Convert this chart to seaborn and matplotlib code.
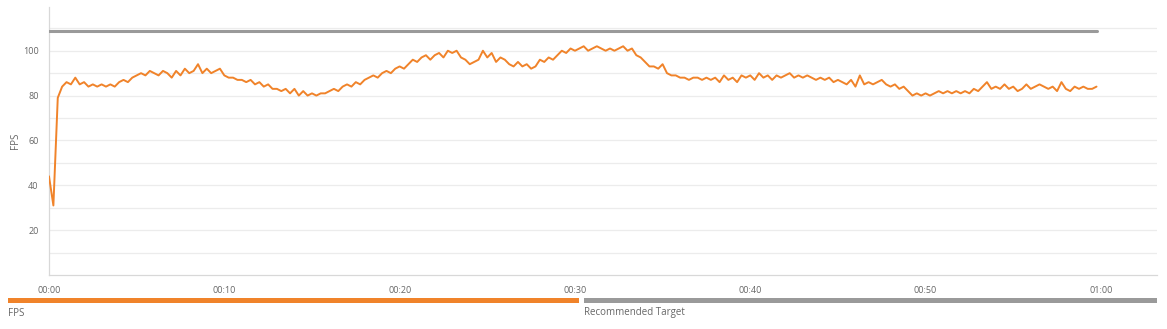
import matplotlib
matplotlib.use("Agg")
import matplotlib.pyplot as plt
import seaborn as sns
import pandas as pd
import numpy as np

# ---- data ----
step = 0.25
fps_values = [
    44, 31, 79, 84,   86, 85, 88, 85,   86, 84, 85, 84,   85, 84, 85, 84,
    86, 87, 86, 88,   89, 90, 89, 91,   90, 89, 91, 90,   88, 91, 89, 92,
    90, 91, 94, 90,   92, 90, 91, 92,   89, 88, 88, 87,   87, 86, 87, 85,
    86, 84, 85, 83,   83, 82, 83, 81,   83, 80, 82, 80,   81, 80, 81, 81,
    82, 83, 82, 84,   85, 84, 86, 85,   87, 88, 89, 88,   90, 91, 90, 92,
    93, 92, 94, 96,   95, 97, 98, 96,   98, 99, 97, 100,  99, 100, 97, 96,
    94, 95, 96, 100,  97, 99, 95, 97,   96, 94, 93, 95,   93, 94, 92, 93,
    96, 95, 97, 96,   98, 100, 99, 101, 100, 101, 102, 100, 101, 102, 101, 100,
    101, 100, 101, 102, 100, 101, 98, 97, 95, 93, 93, 92,  94, 90, 89, 89,
    88, 88, 87, 88,   88, 87, 88, 87,   88, 86, 89, 87,   88, 86, 89, 88,
    89, 87, 90, 88,   89, 87, 89, 88,   89, 90, 88, 89,   88, 89, 88, 87,
    88, 87, 88, 86,   87, 86, 85, 87,   84, 89, 85, 86,   85, 86, 87, 85,
    84, 85, 83, 84,   82, 80, 81, 80,   81, 80, 81, 82,   81, 82, 81, 82,
    81, 82, 81, 83,   82, 84, 86, 83,   84, 83, 85, 83,   84, 82, 83, 85,
    83, 84, 85, 84,   83, 84, 82, 86,   83, 82, 84, 83,   84, 83, 83, 84,
]
fps_times = [i * step for i in range(len(fps_values))]
target_times = [0, fps_times[-1]]
target_values = [109, 109]

x_ticks = [0, 10, 20, 30, 40, 50, 60]
x_tick_labels = ["00:00", "00:10", "00:20", "00:30", "00:40", "00:50", "01:00"]
y_ticks = [20, 40, 60, 80, 100]
y_grid = [10, 20, 30, 40, 50, 60, 70, 80, 90, 100, 110]

legend_labels = ["FPS", "Recommended Target"]

ORANGE = "#f0832a"
GRAY = "#9a9a9a"
TXT = "#666666"

sns.set_theme(style="white")
plt.rcParams['font.family'] = ['Open Sans', 'DejaVu Sans']

fig = plt.figure(figsize=(11.67, 3.29), dpi=100)
ax = fig.add_axes([49 / 1167, (329 - 275) / 329, (1157 - 49) / 1167, (275 - 7) / 329])

df_fps = pd.DataFrame({"t": fps_times, "v": fps_values})
df_tgt = pd.DataFrame({"t": target_times, "v": target_values})

for g in y_grid:
    ax.axhline(g, color="#ececec", lw=0.9, zorder=0)

sns.lineplot(data=df_tgt, x="t", y="v", ax=ax, color=GRAY, lw=2.2, zorder=3)
sns.lineplot(data=df_fps, x="t", y="v", ax=ax, color=ORANGE, lw=1.4, zorder=4)

ax.set_xlim(0, 63.2)
ax.set_ylim(0, 119.5)
ax.set_xticks(x_ticks)
ax.set_xticklabels(x_tick_labels)
ax.set_yticks(y_ticks)
ax.set_yticklabels([str(v) for v in y_ticks])
ax.tick_params(axis="both", colors="#bbbbbb", labelcolor=TXT, labelsize=6.5,
               length=4, width=0.8, direction="out")
ax.tick_params(axis="x", pad=4)
ax.set_xlabel("")
ax.set_ylabel("FPS", fontsize=7, color=TXT)
ax.yaxis.set_label_coords(-28 / 1108, 0.5)

for s in ["top", "right"]:
    ax.spines[s].set_visible(False)
for s in ["left", "bottom"]:
    ax.spines[s].set_color("#d8d8d8")
    ax.spines[s].set_linewidth(0.9)

# legend bars beneath the chart
W, H = 1167, 329
fig.patches.append(matplotlib.patches.Rectangle((8 / W, (H - 303) / H), (579 - 8) / W, 5 / H,
                                                transform=fig.transFigure, color=ORANGE, lw=0))
fig.patches.append(matplotlib.patches.Rectangle((584 / W, (H - 303) / H), (1157 - 584) / W, 5 / H,
                                                transform=fig.transFigure, color=GRAY, lw=0))
fig.text(8 / W, (H - 313) / H, legend_labels[0], fontsize=7, color=TXT, va="center", ha="left")
fig.text(584 / W, (H - 313) / H, legend_labels[1], fontsize=7, color=TXT, va="center", ha="left")

fig.savefig("out.png", dpi=100, facecolor="white")
